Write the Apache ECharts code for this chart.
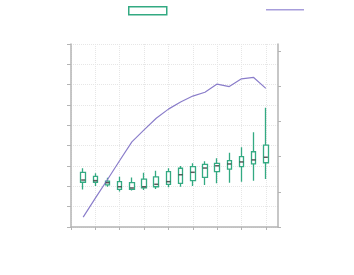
<!DOCTYPE html>
<html><head><meta charset="utf-8">
<script src="https://cdn.jsdelivr.net/npm/echarts@6/dist/echarts.min.js"></script>
<style>html,body{margin:0;padding:0;background:#fff}#c{width:354px;height:275px}</style>
</head><body><div id="c"></div>
<script>
const positions = [1,2,3,4,5,6,7,8,9,10,11,12,13,14,15,16];
const boxMin    = [18.5,20.2,19.8,17.4,17.9,18.2,18.7,19.5,19.8,20.2,20.7,21.5,21.8,22.3,22.8,23.6];
const boxQ1     = [22.0,22.0,20.7,18.5,18.5,19.2,19.8,21.0,21.5,22.8,24.4,27.2,28.5,29.7,31.0,31.6];
const boxMedian = [23.1,22.8,21.8,19.8,19.2,19.8,21.0,22.3,25.7,26.9,29.0,30.1,31.0,32.0,33.0,34.3];
const boxQ3     = [26.9,24.9,22.6,22.3,21.8,23.5,24.7,27.2,28.9,29.7,30.8,31.3,32.6,34.6,37.0,40.3];
const boxMax    = [28.9,26.4,24.2,24.7,24.4,26.7,27.7,28.9,30.0,31.3,32.3,33.8,36.5,39.2,46.6,58.7];
const lineValues = [2.8,8.2,13.5,18.9,24.2,27.6,30.9,33.5,35.5,37.2,38.3,40.6,39.9,42.1,42.5,39.4];
const xTicks = [0,2,4,6,8,10,12,14,16];
const rightTicks = [0,10,20,30,40,50];

const teal = '#33aa82';
const purple = '#8a7dca';
const axisGray = '#b4b4b4';

// candlestick-style box: [x, open(Q1), close(Q3), lowest(min), highest(max)]
const boxData = positions.map((x,i)=>[x,boxQ1[i],boxQ3[i],boxMin[i],boxMax[i]]);
const medData = positions.map((x,i)=>[x,boxMedian[i]]);
const lineData = positions.map((x,i)=>[x,lineValues[i]]);

const chart = echarts.init(document.getElementById('c'));
chart.setOption({
  animation:false,
  legend:[
    {left:128, top:6, padding:0, itemWidth:38, itemHeight:8, itemGap:0, formatter:()=>'',
     data:[{name:'box', icon:'rect', itemStyle:{color:'#fff', borderColor:teal, borderWidth:1.5}}]},
    {left:266, top:9, padding:0, itemWidth:38, itemHeight:1.5, itemGap:0, formatter:()=>'',
     data:[{name:'line', icon:'rect', itemStyle:{color:'#a79ddb', borderWidth:0}}]}
  ],
  grid:{left:71, right:76, top:44, bottom:48, containLabel:false},
  xAxis:{type:'value', min:0, max:17, interval:2,
    axisLine:{lineStyle:{color:axisGray, width:1.5}},
    axisTick:{show:true, length:3, customValues:xTicks, lineStyle:{color:axisGray}},
    axisLabel:{show:false},
    splitLine:{show:true, lineStyle:{color:'#e6e6e6', type:'dotted'}}},
  yAxis:[
    {type:'value', min:0, max:90, interval:10, position:'left',
     axisLine:{show:true, lineStyle:{color:axisGray, width:1.5}},
     axisTick:{show:true, length:4, lineStyle:{color:axisGray}},
     axisLabel:{show:false},
     splitLine:{show:true, lineStyle:{color:'#e6e6e6', type:'dotted'}}},
    {type:'value', min:0, max:52, interval:10, position:'right',
     axisLine:{show:true, lineStyle:{color:axisGray, width:1.5}},
     axisTick:{show:true, length:3, customValues:rightTicks, lineStyle:{color:axisGray}},
     axisLabel:{show:false},
     splitLine:{show:false}}
  ],
  series:[
    {name:'box', type:'candlestick', yAxisIndex:0, barWidth:5,
     itemStyle:{color:'#fff', color0:'#fff', borderColor:teal, borderColor0:teal, borderWidth:1.3},
     data:boxData},
    {name:'median', type:'scatter', yAxisIndex:0, symbol:'rect', symbolSize:[4,1.5],
     itemStyle:{color:'#333'}, data:medData, z:5},
    {name:'line', type:'line', yAxisIndex:1, symbol:'none', smooth:false,
     lineStyle:{color:purple, width:1.2}, itemStyle:{color:purple}, data:lineData}
  ]
});
</script></body></html>
